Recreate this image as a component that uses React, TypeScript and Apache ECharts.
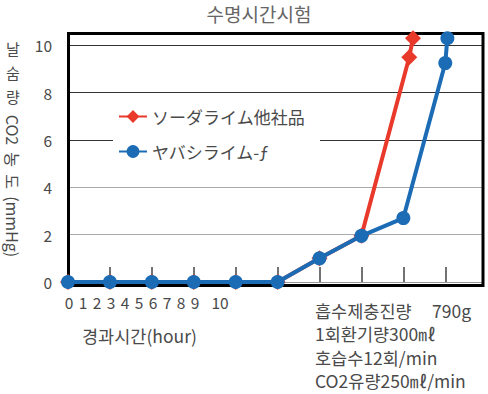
import React, { useEffect, useRef } from "react";
import * as echarts from "echarts";

const title = "수명시간시험";
const seriesNames = ["ソーダライム他社品", "ヤバシライム-ƒ"];
const redX = [0, 1, 2, 3, 4, 5, 6, 7, 8.14, 8.23];
const redY = [0, 0, 0, 0, 0, 0, 1.0, 1.95, 9.5, 10.3];
const blueX = [0, 1, 2, 3, 4, 5, 6, 7, 8, 9.0, 9.05];
const blueY = [0, 0, 0, 0, 0, 0, 1.0, 1.95, 2.7, 9.25, 10.3];
const xTickLabels = ["0", "1", "2", "3", "4", "5", "6", "7", "8", "9", "10"];
const xAxisName = "경과시간(hour)";
const yNameUpright = ["날", "숨", "량"];
const yNameRotated = "CO2  농  도  (mmHg)";
const notes = ["흡수제충진량", "1회환기량300㎖", "호습수12회/min", "CO2유량250㎖/min"];
const noteExtra = "790g";

const KR = "'Noto Sans CJK KR', 'Noto Sans', sans-serif";
const JP = "'Noto Sans CJK JP', 'Noto Sans', sans-serif";
const TXT = "#4a4a4a";

export default function App() {
  const ref = useRef<HTMLDivElement>(null);
  useEffect(() => {
    document.body.style.margin = "0";
    const chart = echarts.init(ref.current!, null, { renderer: "svg" });
    const graphics: any[] = [
      {
        type: "rect",
        z: 1,
        shape: { x: 68.5, y: 33.5, width: 414.5, height: 252 },
        style: { fill: "none", stroke: "#000", lineWidth: 3 },
      },
      {
        type: "text",
        x: 259,
        y: 13,
        style: { text: title, font: `19px ${KR}`, lineHeight: 20, fill: "#666", align: "center", verticalAlign: "middle" },
      },
      ...yNameUpright.map((t, i) => ({
        type: "text",
        x: 13,
        y: 48 + i * 24,
        style: { text: t, font: `15px ${KR}`, fill: TXT, align: "center", verticalAlign: "middle" },
      })),
      {
        type: "text",
        x: 13,
        y: 186,
        rotation: -Math.PI / 2,
        style: { text: yNameRotated, font: `16px ${KR}`, fill: TXT, align: "center", verticalAlign: "middle" },
      },
      ...xTickLabels.map((t, i) => ({
        type: "text",
        x: i < 10 ? 69 + i * 14 : 220,
        y: 302,
        style: { text: t, font: `15.5px ${KR}`, fill: TXT, align: "center", verticalAlign: "middle" },
      })),
      {
        type: "text",
        x: 82,
        y: 335,
        style: { text: xAxisName, font: `17.5px ${KR}`, fill: TXT, align: "left", verticalAlign: "middle" },
      },
      ...notes.map((t, i) => ({
        type: "text",
        x: 315,
        y: [310, 333, 357, 380][i],
        style: { text: t, font: `17.5px ${KR}`, lineHeight: 20, fill: TXT, align: "left", verticalAlign: "middle" },
      })),
      {
        type: "text",
        x: 432,
        y: 310,
        style: { text: noteExtra, font: `17.5px ${KR}`, lineHeight: 20, fill: TXT, align: "left", verticalAlign: "middle" },
      },
    ];
    chart.setOption({
      animation: false,
      grid: { left: 68, right: 5, top: 33.5, bottom: 112, show: false },
      legend: {
        orient: "vertical",
        left: 113,
        top: 100,
        padding: [8, 15, 8, 5],
        itemGap: 18,
        itemWidth: 28,
        itemHeight: 16,
        backgroundColor: "#fff",
        textStyle: { fontSize: 17, color: TXT, fontFamily: JP },
        data: seriesNames,
      },
      xAxis: {
        type: "value",
        min: 0,
        max: 9.9,
        interval: 1,
        offset: 3,
        axisLine: { show: false },
        axisTick: { show: true, inside: true, length: 15, lineStyle: { color: "#444", width: 1.5 } },
        axisLabel: { show: false },
        splitLine: { show: false },
      },
      yAxis: {
        type: "value",
        min: 0,
        max: 10.5,
        interval: 2,
        axisLine: { show: false },
        axisTick: { show: false },
        axisLabel: { showMaxLabel: false, fontSize: 15.5, color: TXT, margin: 16, fontFamily: KR },
        splitLine: {
          lineStyle: { color: ["#999", "#aaa", "#aaa", "#333", "#333", "#333", "#333"], width: 1 },
        },
      },
      series: [
        {
          name: seriesNames[0],
          type: "line",
          data: redX.map((x, i) => [x, redY[i]]),
          symbol: "diamond",
          symbolSize: 16,
          clip: false,
          itemStyle: { color: "#e8392b" },
          lineStyle: { color: "#e8392b", width: 4 },
          z: 2,
        },
        {
          name: seriesNames[1],
          type: "line",
          data: blueX.map((x, i) => [x, blueY[i]]),
          symbol: "circle",
          symbolSize: 14,
          clip: false,
          itemStyle: { color: "#1b6cb5" },
          lineStyle: { color: "#1b6cb5", width: 4 },
          z: 3,
        },
      ],
      graphic: graphics,
    });
    return () => chart.dispose();
  }, []);
  return <div ref={ref} style={{ width: 488, height: 394 }} />;
}
